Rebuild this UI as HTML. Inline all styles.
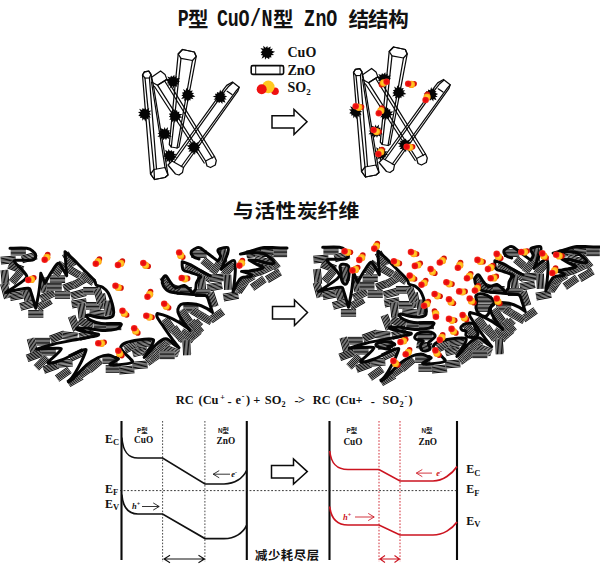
<!DOCTYPE html>
<html lang="zh"><head><meta charset="utf-8"><title>P型 CuO/N型 ZnO 结结构</title>
<style>html,body{margin:0;padding:0;background:#fff}svg{display:block}.t{font-family:"Liberation Sans","Noto Sans CJK SC",sans-serif;font-weight:bold;fill:#111}.m{font-family:"Liberation Mono",monospace;font-weight:bold;fill:#111}.s{font-family:"Liberation Serif","Noto Serif CJK SC",serif;font-weight:bold;fill:#111}.i{font-family:"Liberation Serif",serif;font-style:italic;font-weight:bold}.c{font-family:"Liberation Sans","Noto Sans CJK SC",sans-serif;fill:#222}</style></head><body>
<svg width="600" height="572" viewBox="0 0 600 572">
<rect width="600" height="572" fill="#fff"/>
<defs>
<g id="b"><rect x="-7.60" y="-4.00" width="15.20" height="8.00" fill="#ffffff"/><line x1="-7.60" y1="-3.33" x2="7.60" y2="-3.33" stroke="#0c0c0c" stroke-width="0.98"/><line x1="-7.60" y1="-2.00" x2="7.60" y2="-2.00" stroke="#0c0c0c" stroke-width="0.98"/><line x1="-7.60" y1="-0.67" x2="7.60" y2="-0.67" stroke="#0c0c0c" stroke-width="0.98"/><line x1="-7.60" y1="0.67" x2="7.60" y2="0.67" stroke="#0c0c0c" stroke-width="0.98"/><line x1="-7.60" y1="2.00" x2="7.60" y2="2.00" stroke="#0c0c0c" stroke-width="0.98"/><line x1="-7.60" y1="3.33" x2="7.60" y2="3.33" stroke="#0c0c0c" stroke-width="0.98"/></g>
<polygon id="cu" points="7.1,-0.3 4.5,1.0 5.5,3.0 3.8,2.9 4.0,5.3 1.3,4.4 0.5,7.0 -0.6,4.4 -2.9,7.1 -2.7,3.9 -4.8,4.1 -4.2,2.0 -6.0,1.7 -4.6,-0.3 -7.4,-2.1 -4.2,-2.4 -5.7,-4.9 -2.8,-3.9 -1.9,-6.1 -0.8,-4.4 1.3,-6.8 1.7,-4.2 3.9,-5.6 3.4,-3.2 6.9,-3.5 4.7,-1.0" fill="#050505"/>
<radialGradient id="yg"><stop offset="0" stop-color="#ffd83a"/><stop offset="0.6" stop-color="#ffc21e"/><stop offset="1" stop-color="#ff9a10"/></radialGradient>
<radialGradient id="rg"><stop offset="0" stop-color="#e00808"/><stop offset="0.7" stop-color="#f01212"/><stop offset="1" stop-color="#f43a2a"/></radialGradient>
</defs>
<text class="m" font-size="23.5" y="26.0" x="235.1" text-anchor="middle" transform="scale(0.780 1.000)">P</text>
<text class="t" font-size="20.5" y="26.9" x="198.2" text-anchor="middle">型</text>
<text class="m" font-size="23.5" y="26.0" x="285.1 299.1 312.9 327.6 342.3" text-anchor="middle" transform="scale(0.780 1.000)">CuO/N</text>
<text class="t" font-size="20.5" y="26.9" x="283.3" text-anchor="middle">型</text>
<text class="m" font-size="23.5" y="26.0" x="396.8 411.4 425.3" text-anchor="middle" transform="scale(0.780 1.000)">ZnO</text>
<text class="t" font-size="20.5" y="26.9" x="358.8 378.3 398.5" text-anchor="middle">结结构</text>
<text class="t" font-size="20.8" y="236.5" x="243.3 264.9 286.0 307.3 328.0 348.9" text-anchor="middle" transform="scale(1.000 0.920)">与活性炭纤维</text>
<text class="s" font-size="12.4" y="404.3" x="175.8">RC</text>
<text class="s" font-size="12.4" y="404.3" x="198.5">(Cu</text>
<text class="s" font-size="8" y="400.0" x="220.2">+</text>
<text class="s" font-size="12.4" y="405.8" x="227.4">-</text>
<text class="s" font-size="12.4" y="404.3" x="235.4">e</text>
<text class="s" font-size="8" y="399.3" x="241.8">-</text>
<text class="s" font-size="12.4" y="404.3" x="246.0">)</text>
<text class="s" font-size="12.4" y="404.3" x="253.2">+</text>
<text class="s" font-size="12.4" y="404.3" x="264.8">SO</text>
<text class="s" font-size="8.2" y="407.3" x="281.6">2</text>
<text class="s" font-size="12.4" y="404.8" x="294.4">-</text>
<text class="s" font-size="12.4" y="404.3" x="297.9">&gt;</text>
<text class="s" font-size="12.4" y="404.3" x="312.8">RC</text>
<text class="s" font-size="12.4" y="404.3" x="335.6">(Cu+</text>
<text class="s" font-size="12.4" y="405.8" x="370.8">-</text>
<text class="s" font-size="12.4" y="404.3" x="382.6">SO</text>
<text class="s" font-size="8.2" y="407.3" x="399.4">2</text>
<text class="s" font-size="8" y="399.3" x="404.6">-</text>
<text class="s" font-size="12.4" y="404.3" x="408.4">)</text>
<g transform="translate(0.0 0.0)" fill="none" stroke="#0a0a0a" stroke-width="1.25" stroke-linejoin="round" stroke-linecap="round">
<polygon points="172.0,161.0 223.8,89.2 226.7,85.4 232.5,82.0 239.2,87.3 237.8,91.2 183.5,167.5 182.5,172.5 179.0,175.0 175.5,174.0 168.0,165.0"/>
<polyline points="174.5,161.5 224.8,91.2 228.2,86.8 232.5,83.0" fill="none"/>
<polyline points="181.3,166.5 236.3,90.7 239.2,87.3" fill="none"/>
<polyline points="232.0,94.5 227.2,91.3" fill="none"/>
<polyline points="172.0,161.0 183.5,167.5" fill="none"/>
<polygon points="157.5,85.2 166.9,79.4 214.5,156.5 216.3,160.5 215.3,165.0 210.5,167.5 207.0,166.0 205.6,161.0"/>
<polyline points="165.0,81.5 212.3,158.0" fill="none"/>
<polyline points="154.5,86.5 204.2,163.0" fill="none"/>
<polyline points="205.6,161.0 214.5,156.5" fill="none"/>
<polygon points="178.2,54.0 169.3,144.5 171.3,147.0 177.0,148.0 179.0,147.0 196.2,56.5 194.3,52.0 182.5,49.5"/>
<polygon points="182.5,49.5 194.3,52.0 196.2,56.5 192.5,60.5 181.0,58.3 178.2,54.0"/>
<polyline points="181.0,58.3 171.3,147.0" fill="none"/>
<polyline points="192.5,60.5 177.0,148.0" fill="none"/>
<polygon points="142.5,75.0 150.5,174.0 154.5,179.5 165.0,177.5 168.0,175.0 153.5,86.0 151.0,74.4 148.8,71.2 144.4,71.9"/>
<polygon points="150.5,174.0 154.5,179.5 165.0,177.5 168.0,175.0 165.0,167.5 154.0,169.5"/>
<polygon points="144.4,71.9 148.8,71.2 151.0,74.4 149.4,77.8 145.0,78.1 142.5,75.0"/>
<polyline points="145.0,78.1 154.0,169.5" fill="none"/>
<polyline points="149.4,77.8 156.5,168.8" fill="none"/>
<polyline points="151.5,82.0 165.0,167.5" fill="none"/>
<polyline points="154.0,169.5 154.5,179.5" fill="none"/>
<polygon points="151.2,77.5 160.6,71.0 165.0,74.4 166.9,79.4 157.5,85.2 152.5,82.5"/>
</g>
<use href="#cu" transform="translate(173.0 81.5) rotate(0)"/>
<use href="#cu" transform="translate(187.7 95.1) rotate(37)"/>
<use href="#cu" transform="translate(220.2 97.2) rotate(74)"/>
<use href="#cu" transform="translate(144.7 114.0) rotate(111)"/>
<use href="#cu" transform="translate(175.1 116.1) rotate(148)"/>
<use href="#cu" transform="translate(164.6 133.9) rotate(185)"/>
<use href="#cu" transform="translate(194.0 147.5) rotate(222)"/>
<use href="#cu" transform="translate(169.9 155.9) rotate(259)"/>
<g transform="translate(211.0 -2.5)" fill="none" stroke="#0a0a0a" stroke-width="1.25" stroke-linejoin="round" stroke-linecap="round">
<polygon points="172.0,161.0 223.8,89.2 226.7,85.4 232.5,82.0 239.2,87.3 237.8,91.2 183.5,167.5 182.5,172.5 179.0,175.0 175.5,174.0 168.0,165.0"/>
<polyline points="174.5,161.5 224.8,91.2 228.2,86.8 232.5,83.0" fill="none"/>
<polyline points="181.3,166.5 236.3,90.7 239.2,87.3" fill="none"/>
<polyline points="232.0,94.5 227.2,91.3" fill="none"/>
<polyline points="172.0,161.0 183.5,167.5" fill="none"/>
<polygon points="157.5,85.2 166.9,79.4 214.5,156.5 216.3,160.5 215.3,165.0 210.5,167.5 207.0,166.0 205.6,161.0"/>
<polyline points="165.0,81.5 212.3,158.0" fill="none"/>
<polyline points="154.5,86.5 204.2,163.0" fill="none"/>
<polyline points="205.6,161.0 214.5,156.5" fill="none"/>
<polygon points="178.2,54.0 169.3,144.5 171.3,147.0 177.0,148.0 179.0,147.0 196.2,56.5 194.3,52.0 182.5,49.5"/>
<polygon points="182.5,49.5 194.3,52.0 196.2,56.5 192.5,60.5 181.0,58.3 178.2,54.0"/>
<polyline points="181.0,58.3 171.3,147.0" fill="none"/>
<polyline points="192.5,60.5 177.0,148.0" fill="none"/>
<polygon points="142.5,75.0 150.5,174.0 154.5,179.5 165.0,177.5 168.0,175.0 153.5,86.0 151.0,74.4 148.8,71.2 144.4,71.9"/>
<polygon points="150.5,174.0 154.5,179.5 165.0,177.5 168.0,175.0 165.0,167.5 154.0,169.5"/>
<polygon points="144.4,71.9 148.8,71.2 151.0,74.4 149.4,77.8 145.0,78.1 142.5,75.0"/>
<polyline points="145.0,78.1 154.0,169.5" fill="none"/>
<polyline points="149.4,77.8 156.5,168.8" fill="none"/>
<polyline points="151.5,82.0 165.0,167.5" fill="none"/>
<polyline points="154.0,169.5 154.5,179.5" fill="none"/>
<polygon points="151.2,77.5 160.6,71.0 165.0,74.4 166.9,79.4 157.5,85.2 152.5,82.5"/>
</g>
<use href="#cu" transform="translate(384.0 79.0) rotate(0)"/>
<use href="#cu" transform="translate(398.7 92.6) rotate(37)"/>
<use href="#cu" transform="translate(431.2 94.7) rotate(74)"/>
<use href="#cu" transform="translate(355.7 111.5) rotate(111)"/>
<use href="#cu" transform="translate(386.1 113.6) rotate(148)"/>
<use href="#cu" transform="translate(375.6 131.4) rotate(185)"/>
<use href="#cu" transform="translate(405.0 145.0) rotate(222)"/>
<use href="#cu" transform="translate(380.9 153.4) rotate(259)"/>
<circle cx="381.5" cy="84.7" r="2.8" fill="#d41208"/><circle cx="383.5" cy="82.8" r="3.6" fill="url(#yg)"/><circle cx="386.6" cy="81.7" r="3.3" fill="url(#rg)"/>
<circle cx="414.1" cy="83.8" r="2.8" fill="#d41208"/><circle cx="411.4" cy="84.4" r="3.6" fill="url(#yg)"/><circle cx="408.2" cy="83.8" r="3.3" fill="url(#rg)"/>
<circle cx="427.3" cy="94.3" r="2.8" fill="#d41208"/><circle cx="427.1" cy="97.1" r="3.6" fill="url(#yg)"/><circle cx="425.6" cy="100.0" r="3.3" fill="url(#rg)"/>
<circle cx="361.5" cy="107.1" r="2.8" fill="#d41208"/><circle cx="358.8" cy="107.3" r="3.6" fill="url(#yg)"/><circle cx="355.7" cy="106.3" r="3.3" fill="url(#rg)"/>
<circle cx="381.8" cy="108.1" r="2.8" fill="#d41208"/><circle cx="380.9" cy="110.7" r="3.6" fill="url(#yg)"/><circle cx="378.8" cy="113.2" r="3.3" fill="url(#rg)"/>
<circle cx="379.2" cy="131.8" r="2.8" fill="#d41208"/><circle cx="376.5" cy="131.6" r="3.6" fill="url(#yg)"/><circle cx="373.6" cy="130.0" r="3.3" fill="url(#rg)"/>
<circle cx="412.6" cy="146.7" r="2.8" fill="#d41208"/><circle cx="409.9" cy="147.3" r="3.6" fill="url(#yg)"/><circle cx="406.7" cy="146.7" r="3.3" fill="url(#rg)"/>
<circle cx="382.0" cy="149.5" r="2.8" fill="#d41208"/><circle cx="380.8" cy="151.9" r="3.6" fill="url(#yg)"/><circle cx="378.4" cy="154.1" r="3.3" fill="url(#rg)"/>
<use href="#cu" transform="translate(267 52.7) rotate(20) scale(1.05)"/>
<text class="s" font-size="14" x="287.5" y="56.7">CuO</text>
<rect x="251.2" y="65.6" width="32.4" height="8.8" rx="1.6" fill="#fff" stroke="#0a0a0a" stroke-width="1.6"/>
<path d="M255.7 65.8V74.2M280 65.8V74.2" stroke="#0a0a0a" stroke-width="1" fill="none"/>
<text class="s" font-size="14" x="287.5" y="74.7">ZnO</text>
<circle cx="275" cy="91.3" r="3.8" fill="#ee1111"/><circle cx="268.3" cy="86.9" r="6.3" fill="#ffc820"/><circle cx="261.7" cy="89.3" r="5" fill="#ee1111"/>
<text class="s" font-size="14" x="287.5" y="92">SO<tspan font-size="9" dy="3">2</tspan></text>
<polygon points="272.0,115.7 294.0,115.7 294.0,109.5 307.0,121.8 294.0,134.5 294.0,128.0 272.0,128.0" fill="#fff" stroke="#0a0a0a" stroke-width="1.5" stroke-linejoin="miter"/>
<polygon points="272.5,306.5 294.5,306.5 294.5,300.0 307.5,312.5 294.5,325.5 294.5,319.0 272.5,319.0" fill="#fff" stroke="#0a0a0a" stroke-width="1.5" stroke-linejoin="miter"/>
<polygon points="271.5,465.4 293.5,465.4 293.5,459.0 307.3,471.6 293.5,484.0 293.5,478.0 271.5,478.0" fill="#fff" stroke="#0a0a0a" stroke-width="1.5" stroke-linejoin="miter"/>
<g transform="translate(0.0 0.0)">
<use href="#b" transform="translate(18.3 251.7) rotate(0)"/>
<use href="#b" transform="translate(8.3 260.0) rotate(-5)"/>
<use href="#b" transform="translate(29.2 257.5) rotate(-15)"/>
<use href="#b" transform="translate(15.8 267.5) rotate(20)"/>
<use href="#b" transform="translate(5.0 277.5) rotate(85)"/>
<use href="#b" transform="translate(16.7 276.7) rotate(-50)"/>
<use href="#b" transform="translate(5.8 290.8) rotate(75)"/>
<use href="#b" transform="translate(17.5 295.8) rotate(-10)"/>
<use href="#b" transform="translate(27.5 296.7) rotate(80)"/>
<use href="#b" transform="translate(27.5 305.0) rotate(-15)"/>
<use href="#b" transform="translate(35.8 313.9) rotate(0)"/>
<use href="#b" transform="translate(44.2 304.2) rotate(-30)"/>
<use href="#b" transform="translate(47.5 295.8) rotate(-25)"/>
<use href="#b" transform="translate(44.2 285.0) rotate(80)"/>
<use href="#b" transform="translate(57.5 279.2) rotate(0)"/>
<use href="#b" transform="translate(54.2 286.7) rotate(0)"/>
<use href="#b" transform="translate(62.5 295.0) rotate(0)"/>
<use href="#b" transform="translate(59.2 269.2) rotate(-60)"/>
<use href="#b" transform="translate(69.2 260.0) rotate(60)"/>
<use href="#b" transform="translate(73.3 271.7) rotate(30)"/>
<use href="#b" transform="translate(70.8 285.8) rotate(-20)"/>
<use href="#b" transform="translate(80.0 281.7) rotate(-30)"/>
<use href="#b" transform="translate(87.5 278.3) rotate(35)"/>
<use href="#b" transform="translate(78.3 294.2) rotate(-15)"/>
<use href="#b" transform="translate(90.8 290.8) rotate(0)"/>
<use href="#b" transform="translate(79.2 303.3) rotate(-10)"/>
<use href="#b" transform="translate(81.7 310.8) rotate(85)"/>
<use href="#b" transform="translate(93.3 305.8) rotate(0)"/>
<use href="#b" transform="translate(74.2 323.3) rotate(70)"/>
<use href="#b" transform="translate(85.8 323.3) rotate(20)"/>
<use href="#b" transform="translate(102.6 301.2) rotate(80)"/>
<use href="#b" transform="translate(108.1 308.1) rotate(85)"/>
<use href="#b" transform="translate(97.0 313.7) rotate(5)"/>
<use href="#b" transform="translate(101.2 327.0) rotate(0)"/>
<use href="#b" transform="translate(113.7 326.3) rotate(0)"/>
<use href="#b" transform="translate(99.0 296.0) rotate(75)"/>
<use href="#b" transform="translate(57.5 336.7) rotate(-20)"/>
<use href="#b" transform="translate(70.0 335.8) rotate(5)"/>
<use href="#b" transform="translate(86.7 335.0) rotate(-15)"/>
<use href="#b" transform="translate(42.5 341.7) rotate(0)"/>
<use href="#b" transform="translate(32.5 345.8) rotate(75)"/>
<use href="#b" transform="translate(48.3 351.7) rotate(0)"/>
<use href="#b" transform="translate(34.2 355.8) rotate(-20)"/>
<use href="#b" transform="translate(41.7 362.5) rotate(-45)"/>
<use href="#b" transform="translate(50.8 367.5) rotate(-20)"/>
<use href="#b" transform="translate(65.0 363.3) rotate(-5)"/>
<use href="#b" transform="translate(63.3 374.2) rotate(-35)"/>
<use href="#b" transform="translate(76.7 355.0) rotate(-25)"/>
<use href="#b" transform="translate(75.0 380.0) rotate(-30)"/>
<use href="#b" transform="translate(85.0 371.7) rotate(-35)"/>
<use href="#b" transform="translate(95.0 365.0) rotate(-40)"/>
<use href="#b" transform="translate(110.0 360.0) rotate(0)"/>
<use href="#b" transform="translate(113.3 369.0) rotate(0)"/>
<use href="#b" transform="translate(126.7 370.0) rotate(-5)"/>
<use href="#b" transform="translate(140.0 365.0) rotate(-5)"/>
<use href="#b" transform="translate(131.7 346.7) rotate(-25)"/>
<use href="#b" transform="translate(143.3 343.3) rotate(-5)"/>
<use href="#b" transform="translate(140.0 351.7) rotate(-15)"/>
<use href="#b" transform="translate(153.3 358.3) rotate(-35)"/>
<use href="#b" transform="translate(160.0 348.3) rotate(-45)"/>
<use href="#b" transform="translate(169.2 353.3) rotate(0)"/>
<use href="#b" transform="translate(170.0 326.7) rotate(45)"/>
<use href="#b" transform="translate(178.3 335.0) rotate(45)"/>
<use href="#b" transform="translate(186.7 346.7) rotate(85)"/>
<use href="#b" transform="translate(193.3 335.8) rotate(-40)"/>
<use href="#b" transform="translate(195.0 326.7) rotate(-45)"/>
<use href="#b" transform="translate(186.7 322.5) rotate(40)"/>
<use href="#b" transform="translate(162.5 346.7) rotate(-40)"/>
<use href="#b" transform="translate(155.0 355.0) rotate(-50)"/>
<use href="#b" transform="translate(171.7 350.8) rotate(20)"/>
<use href="#b" transform="translate(199.0 254.1) rotate(0)"/>
<use href="#b" transform="translate(208.7 264.9) rotate(40)"/>
<use href="#b" transform="translate(191.9 269.3) rotate(25)"/>
<use href="#b" transform="translate(204.9 275.8) rotate(30)"/>
<use href="#b" transform="translate(222.8 255.2) rotate(85)"/>
<use href="#b" transform="translate(216.8 267.1) rotate(-55)"/>
<use href="#b" transform="translate(228.8 269.3) rotate(-50)"/>
<use href="#b" transform="translate(216.8 277.9) rotate(-5)"/>
<use href="#b" transform="translate(214.7 286.6) rotate(-10)"/>
<use href="#b" transform="translate(227.7 282.3) rotate(88)"/>
<use href="#b" transform="translate(201.7 283.3) rotate(85)"/>
<use href="#b" transform="translate(202.8 293.1) rotate(0)"/>
<use href="#b" transform="translate(240.7 285.5) rotate(-55)"/>
<use href="#b" transform="translate(230.9 296.3) rotate(-10)"/>
<use href="#b" transform="translate(212.5 299.5) rotate(72)"/>
<use href="#b" transform="translate(184.3 290.9) rotate(0)"/>
<use href="#b" transform="translate(166.7 283.3) rotate(60)"/>
<use href="#b" transform="translate(173.0 288.0) rotate(20)"/>
<use href="#b" transform="translate(216.7 315.8) rotate(-35)"/>
<use href="#b" transform="translate(190.9 308.7) rotate(0)"/>
<use href="#b" transform="translate(198.5 314.1) rotate(30)"/>
<use href="#b" transform="translate(185.5 316.3) rotate(55)"/>
<use href="#b" transform="translate(196.3 327.1) rotate(50)"/>
<use href="#b" transform="translate(187.7 335.8) rotate(35)"/>
<use href="#b" transform="translate(169.3 324.9) rotate(55)"/>
<use href="#b" transform="translate(177.9 333.6) rotate(55)"/>
<use href="#b" transform="translate(186.6 347.7) rotate(88)"/>
<use href="#b" transform="translate(161.7 347.7) rotate(-50)"/>
<use href="#b" transform="translate(171.4 350.9) rotate(20)"/>
<use href="#b" transform="translate(149.8 352.0) rotate(-50)"/>
<use href="#b" transform="translate(167.1 355.3) rotate(0)"/>
<use href="#b" transform="translate(144.3 343.3) rotate(-10)"/>
<use href="#b" transform="translate(205.0 318.0) rotate(30)"/>
<use href="#b" transform="translate(279.5 253.3) rotate(0)"/>
<use href="#b" transform="translate(266.0 253.0) rotate(-3)"/>
<use href="#b" transform="translate(254.0 253.5) rotate(-8)"/>
<use href="#b" transform="translate(272.9 262.8) rotate(50)"/>
<use href="#b" transform="translate(273.5 275.8) rotate(-30)"/>
<use href="#b" transform="translate(258.3 283.3) rotate(-35)"/>
<use href="#b" transform="translate(265.3 269.3) rotate(-25)"/>
<use href="#b" transform="translate(242.6 285.5) rotate(-55)"/>
<use href="#b" transform="translate(256.7 272.5) rotate(-20)"/>
<use href="#b" transform="translate(247.0 279.5) rotate(-30)"/>
<use href="#b" transform="translate(262.0 261.0) rotate(15)"/>
<path d="M10.0 248.3C12.8 248.3 22.8 247.7 26.7 248.3C30.6 248.9 31.8 250.4 33.3 251.7C34.8 252.9 35.9 254.4 35.8 255.8C35.7 257.2 35.7 259.2 32.5 260.0C29.3 260.8 19.6 259.9 16.7 260.3C13.8 260.7 13.6 260.3 15.0 262.5C16.4 264.7 23.3 270.5 25.0 273.3C26.7 276.1 28.2 276.0 25.0 279.2C21.8 282.4 5.8 292.5 5.8 292.5C5.8 292.5 12.9 290.7 16.7 290.0C20.4 289.3 25.9 288.0 28.3 288.3C30.7 288.6 29.6 288.4 30.8 291.7C32.0 295.0 35.8 308.3 35.8 308.3C35.8 308.3 38.4 295.8 39.2 290.0C40.0 284.2 40.8 273.3 40.8 273.3C40.8 273.3 45.0 283.3 45.0 283.3C45.0 283.3 49.5 275.0 51.7 271.7C53.9 268.4 56.4 263.6 58.3 263.3C60.2 263.0 61.9 267.9 63.3 270.0C64.7 272.1 66.7 275.8 66.7 275.8C66.7 275.8 66.1 267.3 65.8 263.3C65.5 259.3 65.0 251.7 65.0 251.7C65.0 251.7 70.2 256.3 73.2 259.2C76.2 262.1 79.5 265.5 83.0 269.0C86.5 272.5 92.0 277.5 94.2 280.2C96.4 282.9 94.9 283.9 96.3 285.1C97.7 286.3 100.6 285.9 102.6 287.2C104.6 288.5 106.5 290.0 108.1 292.8C109.7 295.6 111.4 300.8 112.3 304.0C113.2 307.2 113.7 310.2 113.7 312.3C113.7 314.4 113.5 315.6 112.3 316.5C111.1 317.4 109.2 317.8 106.7 317.9C104.2 318.0 100.0 317.7 97.0 317.2C94.0 316.7 90.3 315.2 88.6 315.1C86.8 315.0 86.0 315.6 86.5 316.5C87.0 317.4 89.0 319.5 91.4 320.7C93.9 321.9 96.6 323.0 101.2 323.5C105.8 324.0 116.0 323.1 119.3 323.5C122.5 323.9 121.2 324.7 120.7 325.6C120.2 326.5 119.3 328.3 116.5 329.1C113.7 329.9 109.0 330.6 104.0 330.5C99.0 330.4 91.1 328.7 86.7 328.3C82.3 327.9 77.5 328.0 77.5 328.0C77.5 328.0 74.8 329.0 78.3 330.0C81.8 331.0 98.3 334.2 98.3 334.2C98.3 334.2 100.0 335.0 96.7 335.8C93.4 336.6 85.5 337.8 78.3 339.2C71.1 340.6 60.2 342.5 53.3 344.2C46.4 345.9 36.7 349.2 36.7 349.2C36.7 349.2 54.4 348.0 58.3 348.3C62.2 348.6 61.7 348.6 60.0 350.8C58.3 353.0 48.3 361.7 48.3 361.7C48.3 361.7 47.0 363.6 49.2 363.3C51.4 363.0 56.0 362.2 61.7 360.0C67.4 357.8 79.4 351.1 83.3 350.0C87.2 348.9 86.4 349.4 85.0 353.3C83.6 357.2 77.8 368.6 75.0 373.3C72.2 378.0 68.3 381.7 68.3 381.7C68.3 381.7 68.6 382.8 71.7 380.0C74.8 377.2 82.3 368.8 86.7 365.0C91.1 361.2 94.7 359.2 98.3 357.5C101.9 355.8 105.5 355.0 108.3 355.0C111.1 355.0 113.3 356.8 115.0 357.5C116.7 358.2 119.1 358.1 118.3 359.2C117.5 360.3 110.3 363.2 110.0 364.2C109.7 365.2 113.1 365.3 116.7 365.0C120.3 364.7 129.5 363.6 131.7 362.5C133.9 361.4 131.4 360.1 130.0 358.3C128.6 356.5 124.8 353.6 123.3 351.7C121.8 349.8 120.2 348.2 120.8 346.7C121.4 345.2 123.8 343.6 126.7 342.5C129.6 341.4 134.1 340.6 138.3 340.0C142.5 339.4 149.2 338.9 151.7 339.2C154.2 339.5 153.6 340.2 153.3 341.7C153.0 343.2 151.5 345.7 150.0 348.3C148.5 350.9 144.2 357.5 144.2 357.5C144.2 357.5 146.5 355.3 148.3 353.3C150.1 351.3 153.0 347.7 155.2 345.5C157.4 343.3 159.7 341.2 161.7 340.1C163.7 339.0 165.3 338.5 167.1 339.0C168.9 339.5 170.5 341.9 172.5 343.3C174.5 344.8 179.0 347.7 179.0 347.7C179.0 347.7 173.9 341.3 171.4 337.9C168.9 334.5 166.2 330.5 163.8 327.1C161.5 323.7 158.4 319.6 157.3 317.3C156.2 315.0 157.3 313.5 157.3 313.5C157.3 313.5 163.7 314.9 167.1 316.3C170.5 317.7 174.5 319.7 177.9 321.7C181.3 323.7 185.7 326.8 187.7 328.2C189.7 329.6 189.8 330.3 189.8 330.3" fill="none" stroke="#050505" stroke-width="3.0" stroke-linecap="round" stroke-linejoin="round"/>
<path d="M287.0 248.1C285.2 248.1 279.8 247.9 276.0 247.8C272.2 247.7 268.3 247.1 264.3 247.6C260.3 248.1 256.0 249.5 252.0 250.6C248.0 251.7 240.4 254.1 240.4 254.1C240.4 254.1 248.5 252.6 252.3 252.5C256.1 252.4 260.1 252.5 263.2 253.5C266.3 254.5 269.0 256.8 270.8 258.4C272.6 260.0 274.6 262.5 274.0 263.3C273.4 264.1 270.2 263.8 267.5 263.3C264.8 262.9 260.9 261.2 257.8 260.6C254.7 260.1 249.1 260.0 249.1 260.0C249.1 260.0 254.3 263.2 256.7 264.4C259.1 265.6 262.8 266.3 263.2 267.1C263.6 267.9 261.2 268.7 258.8 269.3C256.4 269.9 252.0 270.5 249.1 270.9C246.2 271.2 241.5 271.4 241.5 271.4C241.5 271.4 250.0 273.8 251.3 274.7C252.6 275.6 250.7 276.3 249.1 276.8C247.5 277.3 243.5 276.8 241.5 277.9C239.5 279.0 238.6 280.9 237.2 283.3C235.8 285.7 233.1 292.0 233.1 292.0C233.1 292.0 233.8 286.9 234.2 283.3C234.6 279.7 235.3 274.1 235.3 270.3C235.3 266.5 235.5 261.7 234.2 260.6C232.9 259.5 229.9 262.4 227.7 263.8C225.5 265.2 221.2 269.3 221.2 269.3C221.2 269.3 223.3 264.4 224.4 261.7C225.5 259.0 227.1 255.3 227.7 253.0C228.2 250.7 229.0 248.3 227.7 247.6C226.4 246.9 221.7 248.2 220.1 248.7C218.5 249.2 217.8 249.5 217.9 250.8C218.0 252.1 220.6 254.6 220.6 256.3C220.6 258.0 217.9 261.1 217.9 261.1C217.9 261.1 215.4 259.2 213.6 257.9C211.8 256.5 209.3 254.6 207.1 253.0C204.9 251.4 202.2 249.0 200.6 248.1C199.0 247.2 198.8 247.1 197.3 247.6C195.9 248.1 192.9 249.7 191.9 250.8C190.9 251.9 191.0 253.0 191.4 254.1C191.8 255.2 192.8 256.5 194.1 257.3C195.4 258.1 198.2 258.7 199.0 259.0" fill="none" stroke="#050505" stroke-width="3.0" stroke-linecap="round" stroke-linejoin="round"/>
<path d="M210.3 275.8C208.9 275.1 204.9 273.2 201.7 271.4C198.4 269.6 194.1 266.5 190.8 264.9C187.6 263.3 182.2 261.7 182.2 261.7C182.2 261.7 181.9 268.0 183.3 269.8C184.7 271.6 187.9 271.4 190.8 272.5C193.7 273.6 199.3 275.2 200.6 276.3C201.9 277.4 199.1 277.8 198.4 279.0C197.7 280.2 196.8 281.7 196.3 283.3C195.9 284.9 196.2 287.2 195.7 288.8C195.1 290.4 193.0 293.1 193.0 293.1C193.0 293.1 191.2 291.1 189.8 289.8C188.4 288.5 185.9 286.0 184.3 285.5C182.7 285.0 181.6 286.3 180.0 286.6C178.4 286.9 176.7 288.3 175.0 287.5C173.3 286.7 171.5 283.6 170.0 281.7C168.5 279.8 167.1 276.2 165.8 275.8C164.6 275.4 162.9 277.5 162.5 279.2C162.1 280.9 162.1 283.7 163.3 285.8C164.6 287.9 165.6 290.3 170.0 291.7C174.4 293.1 185.0 293.6 190.0 294.2C195.0 294.8 197.2 294.7 200.0 295.0C202.8 295.3 205.0 294.9 206.5 296.0C208.0 297.1 208.0 298.9 209.0 301.7C210.0 304.4 212.5 312.5 212.5 312.5C212.5 312.5 209.4 309.7 206.7 308.3C204.0 306.9 200.2 305.1 196.3 304.3C192.4 303.6 186.2 303.4 183.3 303.8C180.4 304.2 179.9 305.1 179.0 306.5C178.1 307.9 177.3 309.5 177.9 311.9C178.5 314.2 180.3 317.5 182.3 320.6C184.3 323.7 189.8 330.3 189.8 330.3" fill="none" stroke="#050505" stroke-width="3.0" stroke-linecap="round" stroke-linejoin="round"/>
</g>
<circle cx="99.4" cy="259.0" r="2.8" fill="#d41208"/><circle cx="98.2" cy="261.5" r="3.6" fill="url(#yg)"/><circle cx="95.8" cy="263.7" r="3.3" fill="url(#rg)"/>
<circle cx="122.4" cy="261.1" r="2.8" fill="#d41208"/><circle cx="120.8" cy="263.3" r="3.6" fill="url(#yg)"/><circle cx="118.0" cy="265.0" r="3.3" fill="url(#rg)"/>
<circle cx="148.2" cy="266.3" r="2.8" fill="#d41208"/><circle cx="145.6" cy="265.3" r="3.6" fill="url(#yg)"/><circle cx="143.3" cy="263.0" r="3.3" fill="url(#rg)"/>
<circle cx="182.8" cy="257.1" r="2.8" fill="#d41208"/><circle cx="180.7" cy="255.4" r="3.6" fill="url(#yg)"/><circle cx="179.2" cy="252.5" r="3.3" fill="url(#rg)"/>
<circle cx="121.0" cy="287.9" r="2.8" fill="#d41208"/><circle cx="118.3" cy="287.5" r="3.6" fill="url(#yg)"/><circle cx="115.5" cy="285.8" r="3.3" fill="url(#rg)"/>
<circle cx="150.5" cy="291.6" r="2.8" fill="#d41208"/><circle cx="149.7" cy="294.3" r="3.6" fill="url(#yg)"/><circle cx="147.5" cy="296.7" r="3.3" fill="url(#rg)"/>
<circle cx="168.6" cy="307.7" r="2.8" fill="#d41208"/><circle cx="166.2" cy="306.3" r="3.6" fill="url(#yg)"/><circle cx="164.2" cy="303.7" r="3.3" fill="url(#rg)"/>
<circle cx="126.6" cy="315.0" r="2.8" fill="#d41208"/><circle cx="124.3" cy="313.5" r="3.6" fill="url(#yg)"/><circle cx="122.5" cy="310.8" r="3.3" fill="url(#rg)"/>
<circle cx="152.0" cy="317.2" r="2.8" fill="#d41208"/><circle cx="149.3" cy="317.1" r="3.6" fill="url(#yg)"/><circle cx="146.3" cy="315.8" r="3.3" fill="url(#rg)"/>
<circle cx="137.8" cy="332.9" r="2.8" fill="#d41208"/><circle cx="135.7" cy="331.2" r="3.6" fill="url(#yg)"/><circle cx="134.2" cy="328.3" r="3.3" fill="url(#rg)"/>
<circle cx="187.6" cy="278.4" r="2.8" fill="#d41208"/><circle cx="184.9" cy="278.8" r="3.6" fill="url(#yg)"/><circle cx="181.7" cy="278.0" r="3.3" fill="url(#rg)"/>
<circle cx="242.4" cy="260.5" r="2.8" fill="#d41208"/><circle cx="241.6" cy="263.2" r="3.6" fill="url(#yg)"/><circle cx="239.4" cy="265.6" r="3.3" fill="url(#rg)"/>
<circle cx="47.7" cy="254.6" r="2.8" fill="#d41208"/><circle cx="46.9" cy="257.3" r="3.6" fill="url(#yg)"/><circle cx="44.7" cy="259.7" r="3.3" fill="url(#rg)"/>
<circle cx="33.8" cy="277.8" r="2.8" fill="#d41208"/><circle cx="31.5" cy="279.4" r="3.6" fill="url(#yg)"/><circle cx="28.3" cy="280.0" r="3.3" fill="url(#rg)"/>
<circle cx="104.1" cy="342.2" r="2.8" fill="#d41208"/><circle cx="101.6" cy="343.3" r="3.6" fill="url(#yg)"/><circle cx="98.3" cy="343.3" r="3.3" fill="url(#rg)"/>
<circle cx="121.8" cy="355.6" r="2.8" fill="#d41208"/><circle cx="119.7" cy="353.7" r="3.6" fill="url(#yg)"/><circle cx="118.3" cy="350.8" r="3.3" fill="url(#rg)"/>
<g transform="translate(312.7 -1.0)">
<use href="#b" transform="translate(18.3 251.7) rotate(0)"/>
<use href="#b" transform="translate(8.3 260.0) rotate(-5)"/>
<use href="#b" transform="translate(29.2 257.5) rotate(-15)"/>
<use href="#b" transform="translate(15.8 267.5) rotate(20)"/>
<use href="#b" transform="translate(5.0 277.5) rotate(85)"/>
<use href="#b" transform="translate(16.7 276.7) rotate(-50)"/>
<use href="#b" transform="translate(5.8 290.8) rotate(75)"/>
<use href="#b" transform="translate(17.5 295.8) rotate(-10)"/>
<use href="#b" transform="translate(27.5 296.7) rotate(80)"/>
<use href="#b" transform="translate(27.5 305.0) rotate(-15)"/>
<use href="#b" transform="translate(35.8 313.9) rotate(0)"/>
<use href="#b" transform="translate(44.2 304.2) rotate(-30)"/>
<use href="#b" transform="translate(47.5 295.8) rotate(-25)"/>
<use href="#b" transform="translate(44.2 285.0) rotate(80)"/>
<use href="#b" transform="translate(57.5 279.2) rotate(0)"/>
<use href="#b" transform="translate(54.2 286.7) rotate(0)"/>
<use href="#b" transform="translate(62.5 295.0) rotate(0)"/>
<use href="#b" transform="translate(59.2 269.2) rotate(-60)"/>
<use href="#b" transform="translate(69.2 260.0) rotate(60)"/>
<use href="#b" transform="translate(73.3 271.7) rotate(30)"/>
<use href="#b" transform="translate(70.8 285.8) rotate(-20)"/>
<use href="#b" transform="translate(80.0 281.7) rotate(-30)"/>
<use href="#b" transform="translate(87.5 278.3) rotate(35)"/>
<use href="#b" transform="translate(78.3 294.2) rotate(-15)"/>
<use href="#b" transform="translate(90.8 290.8) rotate(0)"/>
<use href="#b" transform="translate(79.2 303.3) rotate(-10)"/>
<use href="#b" transform="translate(81.7 310.8) rotate(85)"/>
<use href="#b" transform="translate(93.3 305.8) rotate(0)"/>
<use href="#b" transform="translate(74.2 323.3) rotate(70)"/>
<use href="#b" transform="translate(85.8 323.3) rotate(20)"/>
<use href="#b" transform="translate(102.6 301.2) rotate(80)"/>
<use href="#b" transform="translate(108.1 308.1) rotate(85)"/>
<use href="#b" transform="translate(97.0 313.7) rotate(5)"/>
<use href="#b" transform="translate(101.2 327.0) rotate(0)"/>
<use href="#b" transform="translate(113.7 326.3) rotate(0)"/>
<use href="#b" transform="translate(99.0 296.0) rotate(75)"/>
<use href="#b" transform="translate(57.5 336.7) rotate(-20)"/>
<use href="#b" transform="translate(70.0 335.8) rotate(5)"/>
<use href="#b" transform="translate(86.7 335.0) rotate(-15)"/>
<use href="#b" transform="translate(42.5 341.7) rotate(0)"/>
<use href="#b" transform="translate(32.5 345.8) rotate(75)"/>
<use href="#b" transform="translate(48.3 351.7) rotate(0)"/>
<use href="#b" transform="translate(34.2 355.8) rotate(-20)"/>
<use href="#b" transform="translate(41.7 362.5) rotate(-45)"/>
<use href="#b" transform="translate(50.8 367.5) rotate(-20)"/>
<use href="#b" transform="translate(65.0 363.3) rotate(-5)"/>
<use href="#b" transform="translate(63.3 374.2) rotate(-35)"/>
<use href="#b" transform="translate(76.7 355.0) rotate(-25)"/>
<use href="#b" transform="translate(75.0 380.0) rotate(-30)"/>
<use href="#b" transform="translate(85.0 371.7) rotate(-35)"/>
<use href="#b" transform="translate(95.0 365.0) rotate(-40)"/>
<use href="#b" transform="translate(110.0 360.0) rotate(0)"/>
<use href="#b" transform="translate(113.3 369.0) rotate(0)"/>
<use href="#b" transform="translate(126.7 370.0) rotate(-5)"/>
<use href="#b" transform="translate(140.0 365.0) rotate(-5)"/>
<use href="#b" transform="translate(131.7 346.7) rotate(-25)"/>
<use href="#b" transform="translate(143.3 343.3) rotate(-5)"/>
<use href="#b" transform="translate(140.0 351.7) rotate(-15)"/>
<use href="#b" transform="translate(153.3 358.3) rotate(-35)"/>
<use href="#b" transform="translate(160.0 348.3) rotate(-45)"/>
<use href="#b" transform="translate(169.2 353.3) rotate(0)"/>
<use href="#b" transform="translate(170.0 326.7) rotate(45)"/>
<use href="#b" transform="translate(178.3 335.0) rotate(45)"/>
<use href="#b" transform="translate(186.7 346.7) rotate(85)"/>
<use href="#b" transform="translate(193.3 335.8) rotate(-40)"/>
<use href="#b" transform="translate(195.0 326.7) rotate(-45)"/>
<use href="#b" transform="translate(186.7 322.5) rotate(40)"/>
<use href="#b" transform="translate(162.5 346.7) rotate(-40)"/>
<use href="#b" transform="translate(155.0 355.0) rotate(-50)"/>
<use href="#b" transform="translate(171.7 350.8) rotate(20)"/>
<use href="#b" transform="translate(199.0 254.1) rotate(0)"/>
<use href="#b" transform="translate(208.7 264.9) rotate(40)"/>
<use href="#b" transform="translate(191.9 269.3) rotate(25)"/>
<use href="#b" transform="translate(204.9 275.8) rotate(30)"/>
<use href="#b" transform="translate(222.8 255.2) rotate(85)"/>
<use href="#b" transform="translate(216.8 267.1) rotate(-55)"/>
<use href="#b" transform="translate(228.8 269.3) rotate(-50)"/>
<use href="#b" transform="translate(216.8 277.9) rotate(-5)"/>
<use href="#b" transform="translate(214.7 286.6) rotate(-10)"/>
<use href="#b" transform="translate(227.7 282.3) rotate(88)"/>
<use href="#b" transform="translate(201.7 283.3) rotate(85)"/>
<use href="#b" transform="translate(202.8 293.1) rotate(0)"/>
<use href="#b" transform="translate(240.7 285.5) rotate(-55)"/>
<use href="#b" transform="translate(230.9 296.3) rotate(-10)"/>
<use href="#b" transform="translate(212.5 299.5) rotate(72)"/>
<use href="#b" transform="translate(184.3 290.9) rotate(0)"/>
<use href="#b" transform="translate(166.7 283.3) rotate(60)"/>
<use href="#b" transform="translate(173.0 288.0) rotate(20)"/>
<use href="#b" transform="translate(216.7 315.8) rotate(-35)"/>
<use href="#b" transform="translate(190.9 308.7) rotate(0)"/>
<use href="#b" transform="translate(198.5 314.1) rotate(30)"/>
<use href="#b" transform="translate(185.5 316.3) rotate(55)"/>
<use href="#b" transform="translate(196.3 327.1) rotate(50)"/>
<use href="#b" transform="translate(187.7 335.8) rotate(35)"/>
<use href="#b" transform="translate(169.3 324.9) rotate(55)"/>
<use href="#b" transform="translate(177.9 333.6) rotate(55)"/>
<use href="#b" transform="translate(186.6 347.7) rotate(88)"/>
<use href="#b" transform="translate(161.7 347.7) rotate(-50)"/>
<use href="#b" transform="translate(171.4 350.9) rotate(20)"/>
<use href="#b" transform="translate(149.8 352.0) rotate(-50)"/>
<use href="#b" transform="translate(167.1 355.3) rotate(0)"/>
<use href="#b" transform="translate(144.3 343.3) rotate(-10)"/>
<use href="#b" transform="translate(205.0 318.0) rotate(30)"/>
<use href="#b" transform="translate(279.5 253.3) rotate(0)"/>
<use href="#b" transform="translate(266.0 253.0) rotate(-3)"/>
<use href="#b" transform="translate(254.0 253.5) rotate(-8)"/>
<use href="#b" transform="translate(272.9 262.8) rotate(50)"/>
<use href="#b" transform="translate(273.5 275.8) rotate(-30)"/>
<use href="#b" transform="translate(258.3 283.3) rotate(-35)"/>
<use href="#b" transform="translate(265.3 269.3) rotate(-25)"/>
<use href="#b" transform="translate(242.6 285.5) rotate(-55)"/>
<use href="#b" transform="translate(256.7 272.5) rotate(-20)"/>
<use href="#b" transform="translate(247.0 279.5) rotate(-30)"/>
<use href="#b" transform="translate(262.0 261.0) rotate(15)"/>
<use href="#b" transform="translate(112.3 337.5) rotate(0)"/>
<use href="#b" transform="translate(111.5 346.5) rotate(10)"/>
<use href="#b" transform="translate(157.5 331.5) rotate(55)"/>
<use href="#b" transform="translate(32.0 275.0) rotate(80)"/>
<use href="#b" transform="translate(171.7 300.6) rotate(0)"/>
<use href="#b" transform="translate(170.8 309.0) rotate(0)"/>
<use href="#b" transform="translate(72.5 346.0) rotate(-8)"/>
<path d="M10.0 248.3C12.8 248.3 22.8 247.7 26.7 248.3C30.6 248.9 31.8 250.4 33.3 251.7C34.8 252.9 35.9 254.4 35.8 255.8C35.7 257.2 35.7 259.2 32.5 260.0C29.3 260.8 19.6 259.9 16.7 260.3C13.8 260.7 13.6 260.3 15.0 262.5C16.4 264.7 23.3 270.5 25.0 273.3C26.7 276.1 28.2 276.0 25.0 279.2C21.8 282.4 5.8 292.5 5.8 292.5C5.8 292.5 12.9 290.7 16.7 290.0C20.4 289.3 25.9 288.0 28.3 288.3C30.7 288.6 29.6 288.4 30.8 291.7C32.0 295.0 35.8 308.3 35.8 308.3C35.8 308.3 38.4 295.8 39.2 290.0C40.0 284.2 40.8 273.3 40.8 273.3C40.8 273.3 45.0 283.3 45.0 283.3C45.0 283.3 49.5 275.0 51.7 271.7C53.9 268.4 56.4 263.6 58.3 263.3C60.2 263.0 61.9 267.9 63.3 270.0C64.7 272.1 66.7 275.8 66.7 275.8C66.7 275.8 66.1 267.3 65.8 263.3C65.5 259.3 65.0 251.7 65.0 251.7C65.0 251.7 70.2 256.3 73.2 259.2C76.2 262.1 79.5 265.5 83.0 269.0C86.5 272.5 92.0 277.5 94.2 280.2C96.4 282.9 94.9 283.9 96.3 285.1C97.7 286.3 100.6 285.9 102.6 287.2C104.6 288.5 106.5 290.0 108.1 292.8C109.7 295.6 111.4 300.8 112.3 304.0C113.2 307.2 113.7 310.2 113.7 312.3C113.7 314.4 113.5 315.6 112.3 316.5C111.1 317.4 109.2 317.8 106.7 317.9C104.2 318.0 100.0 317.7 97.0 317.2C94.0 316.7 90.3 315.2 88.6 315.1C86.8 315.0 86.0 315.6 86.5 316.5C87.0 317.4 89.0 319.5 91.4 320.7C93.9 321.9 96.6 323.0 101.2 323.5C105.8 324.0 116.0 323.1 119.3 323.5C122.5 323.9 121.2 324.7 120.7 325.6C120.2 326.5 119.3 328.3 116.5 329.1C113.7 329.9 109.0 330.6 104.0 330.5C99.0 330.4 91.1 328.7 86.7 328.3C82.3 327.9 77.5 328.0 77.5 328.0C77.5 328.0 74.8 329.0 78.3 330.0C81.8 331.0 98.3 334.2 98.3 334.2C98.3 334.2 100.0 335.0 96.7 335.8C93.4 336.6 85.5 337.8 78.3 339.2C71.1 340.6 60.2 342.5 53.3 344.2C46.4 345.9 36.7 349.2 36.7 349.2C36.7 349.2 54.4 348.0 58.3 348.3C62.2 348.6 61.7 348.6 60.0 350.8C58.3 353.0 48.3 361.7 48.3 361.7C48.3 361.7 47.0 363.6 49.2 363.3C51.4 363.0 56.0 362.2 61.7 360.0C67.4 357.8 79.4 351.1 83.3 350.0C87.2 348.9 86.4 349.4 85.0 353.3C83.6 357.2 77.8 368.6 75.0 373.3C72.2 378.0 68.3 381.7 68.3 381.7C68.3 381.7 68.6 382.8 71.7 380.0C74.8 377.2 82.3 368.8 86.7 365.0C91.1 361.2 94.7 359.2 98.3 357.5C101.9 355.8 105.5 355.0 108.3 355.0C111.1 355.0 113.3 356.8 115.0 357.5C116.7 358.2 119.1 358.1 118.3 359.2C117.5 360.3 110.3 363.2 110.0 364.2C109.7 365.2 113.1 365.3 116.7 365.0C120.3 364.7 129.5 363.6 131.7 362.5C133.9 361.4 131.4 360.1 130.0 358.3C128.6 356.5 124.8 353.6 123.3 351.7C121.8 349.8 120.2 348.2 120.8 346.7C121.4 345.2 123.8 343.6 126.7 342.5C129.6 341.4 134.1 340.6 138.3 340.0C142.5 339.4 149.2 338.9 151.7 339.2C154.2 339.5 153.6 340.2 153.3 341.7C153.0 343.2 151.5 345.7 150.0 348.3C148.5 350.9 144.2 357.5 144.2 357.5C144.2 357.5 146.5 355.3 148.3 353.3C150.1 351.3 153.0 347.7 155.2 345.5C157.4 343.3 159.7 341.2 161.7 340.1C163.7 339.0 165.3 338.5 167.1 339.0C168.9 339.5 170.5 341.9 172.5 343.3C174.5 344.8 179.0 347.7 179.0 347.7C179.0 347.7 173.9 341.3 171.4 337.9C168.9 334.5 166.2 330.5 163.8 327.1C161.5 323.7 158.4 319.6 157.3 317.3C156.2 315.0 157.3 313.5 157.3 313.5C157.3 313.5 163.7 314.9 167.1 316.3C170.5 317.7 174.5 319.7 177.9 321.7C181.3 323.7 185.7 326.8 187.7 328.2C189.7 329.6 189.8 330.3 189.8 330.3" fill="none" stroke="#050505" stroke-width="3.0" stroke-linecap="round" stroke-linejoin="round"/>
<path d="M287.0 248.1C285.2 248.1 279.8 247.9 276.0 247.8C272.2 247.7 268.3 247.1 264.3 247.6C260.3 248.1 256.0 249.5 252.0 250.6C248.0 251.7 240.4 254.1 240.4 254.1C240.4 254.1 248.5 252.6 252.3 252.5C256.1 252.4 260.1 252.5 263.2 253.5C266.3 254.5 269.0 256.8 270.8 258.4C272.6 260.0 274.6 262.5 274.0 263.3C273.4 264.1 270.2 263.8 267.5 263.3C264.8 262.9 260.9 261.2 257.8 260.6C254.7 260.1 249.1 260.0 249.1 260.0C249.1 260.0 254.3 263.2 256.7 264.4C259.1 265.6 262.8 266.3 263.2 267.1C263.6 267.9 261.2 268.7 258.8 269.3C256.4 269.9 252.0 270.5 249.1 270.9C246.2 271.2 241.5 271.4 241.5 271.4C241.5 271.4 250.0 273.8 251.3 274.7C252.6 275.6 250.7 276.3 249.1 276.8C247.5 277.3 243.5 276.8 241.5 277.9C239.5 279.0 238.6 280.9 237.2 283.3C235.8 285.7 233.1 292.0 233.1 292.0C233.1 292.0 233.8 286.9 234.2 283.3C234.6 279.7 235.3 274.1 235.3 270.3C235.3 266.5 235.5 261.7 234.2 260.6C232.9 259.5 229.9 262.4 227.7 263.8C225.5 265.2 221.2 269.3 221.2 269.3C221.2 269.3 223.3 264.4 224.4 261.7C225.5 259.0 227.1 255.3 227.7 253.0C228.2 250.7 229.0 248.3 227.7 247.6C226.4 246.9 221.7 248.2 220.1 248.7C218.5 249.2 217.8 249.5 217.9 250.8C218.0 252.1 220.6 254.6 220.6 256.3C220.6 258.0 217.9 261.1 217.9 261.1C217.9 261.1 215.4 259.2 213.6 257.9C211.8 256.5 209.3 254.6 207.1 253.0C204.9 251.4 202.2 249.0 200.6 248.1C199.0 247.2 198.8 247.1 197.3 247.6C195.9 248.1 192.9 249.7 191.9 250.8C190.9 251.9 191.0 253.0 191.4 254.1C191.8 255.2 192.8 256.5 194.1 257.3C195.4 258.1 198.2 258.7 199.0 259.0" fill="none" stroke="#050505" stroke-width="3.0" stroke-linecap="round" stroke-linejoin="round"/>
<path d="M210.3 275.8C208.9 275.1 204.9 273.2 201.7 271.4C198.4 269.6 194.1 266.5 190.8 264.9C187.6 263.3 182.2 261.7 182.2 261.7C182.2 261.7 181.9 268.0 183.3 269.8C184.7 271.6 187.9 271.4 190.8 272.5C193.7 273.6 199.3 275.2 200.6 276.3C201.9 277.4 199.1 277.8 198.4 279.0C197.7 280.2 196.8 281.7 196.3 283.3C195.9 284.9 196.2 287.2 195.7 288.8C195.1 290.4 193.0 293.1 193.0 293.1C193.0 293.1 191.2 291.1 189.8 289.8C188.4 288.5 185.9 286.0 184.3 285.5C182.7 285.0 181.6 286.3 180.0 286.6C178.4 286.9 176.7 288.3 175.0 287.5C173.3 286.7 171.5 283.6 170.0 281.7C168.5 279.8 167.1 276.2 165.8 275.8C164.6 275.4 162.9 277.5 162.5 279.2C162.1 280.9 162.1 283.7 163.3 285.8C164.6 287.9 165.6 290.3 170.0 291.7C174.4 293.1 185.0 293.6 190.0 294.2C195.0 294.8 197.2 294.7 200.0 295.0C202.8 295.3 205.0 294.9 206.5 296.0C208.0 297.1 208.0 298.9 209.0 301.7C210.0 304.4 212.5 312.5 212.5 312.5C212.5 312.5 209.4 309.7 206.7 308.3C204.0 306.9 200.2 305.1 196.3 304.3C192.4 303.6 186.2 303.4 183.3 303.8C180.4 304.2 179.9 305.1 179.0 306.5C178.1 307.9 177.3 309.5 177.9 311.9C178.5 314.2 180.3 317.5 182.3 320.6C184.3 323.7 189.8 330.3 189.8 330.3" fill="none" stroke="#050505" stroke-width="3.0" stroke-linecap="round" stroke-linejoin="round"/>
<path d="M63.6 345.0C64.6 344.2 67.8 342.8 70.3 342.5C72.8 342.2 76.6 342.8 78.6 343.3C80.5 343.9 82.5 345.1 82.0 345.8C81.5 346.5 76.1 346.8 75.3 347.5C74.5 348.2 77.8 349.7 77.0 350.0C76.2 350.3 72.4 349.6 70.3 349.2C68.2 348.8 65.6 348.2 64.5 347.5C63.4 346.8 62.6 345.8 63.6 345.0Z" fill="none" stroke="#050505" stroke-width="3.0" stroke-linecap="round" stroke-linejoin="round"/>
<path d="M163.3 296.4C164.4 295.2 167.7 294.5 170.3 295.0C172.9 295.5 176.8 297.6 178.7 299.2C180.6 300.8 181.7 303.2 181.5 304.8C181.3 306.4 178.2 307.4 177.3 309.0C176.4 310.6 176.7 313.2 175.9 314.6C175.1 316.0 173.9 317.4 172.3 317.4C170.7 317.4 167.6 316.0 166.1 314.6C164.6 313.2 163.7 311.1 163.3 309.0C163.0 306.9 164.0 304.1 164.0 302.0C164.0 299.9 162.2 297.6 163.3 296.4Z" fill="none" stroke="#050505" stroke-width="3.0" stroke-linecap="round" stroke-linejoin="round"/>
<path d="M29.8 265.2C31.2 265.1 34.5 265.3 35.6 266.8C36.7 268.3 36.6 271.7 36.5 274.3C36.4 276.9 35.5 280.9 34.8 282.7C34.1 284.5 33.3 285.5 32.3 285.2C31.3 284.9 29.7 283.1 29.0 281.0C28.3 278.9 28.4 274.9 28.1 272.7C27.8 270.5 27.0 268.9 27.3 267.7C27.6 266.4 28.4 265.3 29.8 265.2Z" fill="none" stroke="#050505" stroke-width="3.0" stroke-linecap="round" stroke-linejoin="round"/>
<path d="M103.1 336.0C103.9 335.0 105.2 334.1 107.3 333.5C109.4 332.9 113.4 332.6 115.6 332.7C117.8 332.8 119.5 333.5 120.6 334.3C121.7 335.1 122.6 336.6 122.3 337.7C122.0 338.8 120.1 339.9 119.0 341.0C117.9 342.1 115.9 342.9 115.6 344.3C115.3 345.7 117.6 348.1 117.3 349.3C117.0 350.6 115.4 351.5 114.0 351.8C112.6 352.1 110.0 352.0 109.0 351.0C108.0 350.0 107.8 347.5 108.1 346.0C108.4 344.5 111.0 342.6 110.6 341.8C110.2 341.0 107.0 341.4 105.6 341.0C104.2 340.6 102.7 340.1 102.3 339.3C101.9 338.5 102.3 337.0 103.1 336.0Z" fill="none" stroke="#050505" stroke-width="3.0" stroke-linecap="round" stroke-linejoin="round"/>
<path d="M148.6 327.7C149.4 326.6 152.0 324.8 154.0 324.3C156.0 323.9 159.2 324.1 160.6 325.0C162.0 325.9 161.8 328.1 162.6 329.7C163.4 331.2 165.2 333.0 165.3 334.3C165.4 335.6 164.6 337.0 163.3 337.7C162.0 338.4 159.0 338.5 157.3 338.3C155.6 338.1 154.0 337.3 153.3 336.3C152.6 335.3 154.0 333.2 153.3 332.3C152.6 331.4 150.1 331.8 149.3 331.0C148.5 330.2 147.8 328.8 148.6 327.7Z" fill="none" stroke="#050505" stroke-width="3.0" stroke-linecap="round" stroke-linejoin="round"/>
</g>
<circle cx="350.4" cy="252.2" r="2.8" fill="#d41208"/><circle cx="347.7" cy="252.4" r="3.6" fill="url(#yg)"/><circle cx="344.6" cy="251.3" r="3.3" fill="url(#rg)"/>
<circle cx="377.3" cy="243.5" r="2.8" fill="#d41208"/><circle cx="376.4" cy="246.2" r="3.6" fill="url(#yg)"/><circle cx="374.3" cy="248.6" r="3.3" fill="url(#rg)"/>
<circle cx="362.8" cy="255.1" r="2.8" fill="#d41208"/><circle cx="361.7" cy="257.7" r="3.6" fill="url(#yg)"/><circle cx="359.3" cy="259.9" r="3.3" fill="url(#rg)"/>
<circle cx="357.7" cy="267.5" r="2.8" fill="#d41208"/><circle cx="355.6" cy="269.4" r="3.6" fill="url(#yg)"/><circle cx="352.5" cy="270.4" r="3.3" fill="url(#rg)"/>
<circle cx="399.4" cy="263.4" r="2.8" fill="#d41208"/><circle cx="396.7" cy="262.9" r="3.6" fill="url(#yg)"/><circle cx="393.9" cy="261.2" r="3.3" fill="url(#rg)"/>
<circle cx="416.6" cy="254.0" r="2.8" fill="#d41208"/><circle cx="413.8" cy="253.6" r="3.6" fill="url(#yg)"/><circle cx="411.0" cy="252.0" r="3.3" fill="url(#rg)"/>
<circle cx="420.2" cy="263.3" r="2.8" fill="#d41208"/><circle cx="418.0" cy="265.0" r="3.6" fill="url(#yg)"/><circle cx="414.9" cy="265.9" r="3.3" fill="url(#rg)"/>
<circle cx="444.0" cy="258.3" r="2.8" fill="#d41208"/><circle cx="442.5" cy="260.7" r="3.6" fill="url(#yg)"/><circle cx="439.8" cy="262.5" r="3.3" fill="url(#rg)"/>
<circle cx="434.8" cy="273.2" r="2.8" fill="#d41208"/><circle cx="432.5" cy="271.8" r="3.6" fill="url(#yg)"/><circle cx="430.6" cy="269.1" r="3.3" fill="url(#rg)"/>
<circle cx="460.5" cy="262.5" r="2.8" fill="#d41208"/><circle cx="459.8" cy="265.2" r="3.6" fill="url(#yg)"/><circle cx="457.9" cy="267.8" r="3.3" fill="url(#rg)"/>
<circle cx="414.6" cy="279.0" r="2.8" fill="#d41208"/><circle cx="412.0" cy="277.9" r="3.6" fill="url(#yg)"/><circle cx="409.7" cy="275.6" r="3.3" fill="url(#rg)"/>
<circle cx="425.7" cy="280.6" r="2.8" fill="#d41208"/><circle cx="424.2" cy="283.0" r="3.6" fill="url(#yg)"/><circle cx="421.5" cy="284.8" r="3.3" fill="url(#rg)"/>
<circle cx="452.0" cy="284.1" r="2.8" fill="#d41208"/><circle cx="449.2" cy="283.8" r="3.6" fill="url(#yg)"/><circle cx="446.4" cy="282.2" r="3.3" fill="url(#rg)"/>
<circle cx="440.1" cy="296.2" r="2.8" fill="#d41208"/><circle cx="437.3" cy="295.8" r="3.6" fill="url(#yg)"/><circle cx="434.6" cy="294.0" r="3.3" fill="url(#rg)"/>
<circle cx="465.1" cy="291.4" r="2.8" fill="#d41208"/><circle cx="462.4" cy="292.0" r="3.6" fill="url(#yg)"/><circle cx="459.2" cy="291.4" r="3.3" fill="url(#rg)"/>
<circle cx="428.3" cy="301.6" r="2.8" fill="#d41208"/><circle cx="426.8" cy="304.0" r="3.6" fill="url(#yg)"/><circle cx="424.1" cy="305.8" r="3.3" fill="url(#rg)"/>
<circle cx="453.4" cy="303.2" r="2.8" fill="#d41208"/><circle cx="451.0" cy="301.9" r="3.6" fill="url(#yg)"/><circle cx="449.0" cy="299.3" r="3.3" fill="url(#rg)"/>
<circle cx="434.5" cy="311.1" r="2.8" fill="#d41208"/><circle cx="435.7" cy="313.6" r="3.6" fill="url(#yg)"/><circle cx="435.9" cy="316.8" r="3.3" fill="url(#rg)"/>
<circle cx="454.7" cy="320.3" r="2.8" fill="#d41208"/><circle cx="452.0" cy="320.3" r="3.6" fill="url(#yg)"/><circle cx="449.0" cy="318.9" r="3.3" fill="url(#rg)"/>
<circle cx="455.9" cy="332.9" r="2.8" fill="#d41208"/><circle cx="453.5" cy="331.5" r="3.6" fill="url(#yg)"/><circle cx="451.6" cy="328.9" r="3.3" fill="url(#rg)"/>
<circle cx="442.7" cy="334.7" r="2.8" fill="#d41208"/><circle cx="441.9" cy="337.4" r="3.6" fill="url(#yg)"/><circle cx="439.8" cy="339.9" r="3.3" fill="url(#rg)"/>
<circle cx="405.7" cy="339.2" r="2.8" fill="#d41208"/><circle cx="403.6" cy="341.0" r="3.6" fill="url(#yg)"/><circle cx="400.5" cy="342.0" r="3.3" fill="url(#rg)"/>
<circle cx="409.6" cy="349.9" r="2.8" fill="#d41208"/><circle cx="408.3" cy="352.3" r="3.6" fill="url(#yg)"/><circle cx="405.7" cy="354.3" r="3.3" fill="url(#rg)"/>
<circle cx="439.0" cy="355.1" r="2.8" fill="#d41208"/><circle cx="436.9" cy="353.3" r="3.6" fill="url(#yg)"/><circle cx="435.4" cy="350.4" r="3.3" fill="url(#rg)"/>
<circle cx="397.9" cy="364.7" r="2.8" fill="#d41208"/><circle cx="395.5" cy="363.4" r="3.6" fill="url(#yg)"/><circle cx="393.4" cy="360.9" r="3.3" fill="url(#rg)"/>
<circle cx="483.1" cy="261.7" r="2.8" fill="#d41208"/><circle cx="480.4" cy="261.5" r="3.6" fill="url(#yg)"/><circle cx="477.5" cy="259.9" r="3.3" fill="url(#rg)"/>
<circle cx="500.7" cy="258.3" r="2.8" fill="#d41208"/><circle cx="498.4" cy="256.7" r="3.6" fill="url(#yg)"/><circle cx="496.7" cy="253.9" r="3.3" fill="url(#rg)"/>
<circle cx="492.7" cy="265.5" r="2.8" fill="#d41208"/><circle cx="490.9" cy="267.6" r="3.6" fill="url(#yg)"/><circle cx="488.0" cy="269.1" r="3.3" fill="url(#rg)"/>
<circle cx="470.7" cy="273.7" r="2.8" fill="#d41208"/><circle cx="469.5" cy="276.2" r="3.6" fill="url(#yg)"/><circle cx="467.0" cy="278.3" r="3.3" fill="url(#rg)"/>
<circle cx="496.3" cy="276.4" r="2.8" fill="#d41208"/><circle cx="493.9" cy="277.9" r="3.6" fill="url(#yg)"/><circle cx="490.7" cy="278.3" r="3.3" fill="url(#rg)"/>
<circle cx="478.3" cy="285.8" r="2.8" fill="#d41208"/><circle cx="477.2" cy="288.3" r="3.6" fill="url(#yg)"/><circle cx="474.9" cy="290.6" r="3.3" fill="url(#rg)"/>
<circle cx="473.9" cy="302.7" r="2.8" fill="#d41208"/><circle cx="471.5" cy="301.2" r="3.6" fill="url(#yg)"/><circle cx="469.7" cy="298.5" r="3.3" fill="url(#rg)"/>
<circle cx="499.8" cy="303.5" r="2.8" fill="#d41208"/><circle cx="497.9" cy="301.5" r="3.6" fill="url(#yg)"/><circle cx="496.7" cy="298.5" r="3.3" fill="url(#rg)"/>
<circle cx="466.6" cy="319.4" r="2.8" fill="#d41208"/><circle cx="464.3" cy="317.8" r="3.6" fill="url(#yg)"/><circle cx="462.6" cy="315.0" r="3.3" fill="url(#rg)"/>
<circle cx="527.1" cy="251.0" r="2.8" fill="#d41208"/><circle cx="524.6" cy="252.1" r="3.6" fill="url(#yg)"/><circle cx="521.3" cy="252.0" r="3.3" fill="url(#rg)"/>
<circle cx="546.2" cy="257.8" r="2.8" fill="#d41208"/><circle cx="544.0" cy="256.2" r="3.6" fill="url(#yg)"/><circle cx="542.3" cy="253.4" r="3.3" fill="url(#rg)"/>
<circle cx="562.0" cy="255.9" r="2.8" fill="#d41208"/><circle cx="559.2" cy="255.9" r="3.6" fill="url(#yg)"/><circle cx="556.2" cy="254.7" r="3.3" fill="url(#rg)"/>
<circle cx="555.6" cy="268.1" r="2.8" fill="#d41208"/><circle cx="554.6" cy="270.7" r="3.6" fill="url(#yg)"/><circle cx="552.3" cy="273.0" r="3.3" fill="url(#rg)"/>
<path d="M121.5 421V560M246.8 421V560" stroke="#0a0a0a" stroke-width="2.1" fill="none"/><path d="M162.6 421V562M204.9 421V562" stroke="#333" stroke-width="0.9" stroke-dasharray="1.6 1.6" fill="none"/><path d="M121.8 437.5C123 452 128 458 138 458H162.6L205 484H224C235 484 243 478 246.6 470.5" stroke="#111" stroke-width="1.7" fill="none"/><path d="M121.8 494.5C123 508 128 514 138 514H162.6L205 538.6H224C235 538.6 243 533 246.6 525.4" stroke="#111" stroke-width="1.7" fill="none"/>
<path d="M329.5 421V560M457.0 421V560" stroke="#0a0a0a" stroke-width="2.1" fill="none"/><path d="M379.0 421V562M400.0 421V562" stroke="#cc1420" stroke-width="0.9" stroke-dasharray="1.6 1.6" fill="none"/><path d="M329.7 451C331 463 336 469.5 348 469.5H379L400 481H433C443 481 452 474 457 466.5" stroke="#cc1420" stroke-width="1.7" fill="none"/><path d="M329.7 506.5C331 518 336 525 348 525H379L400 535H433C443 535 452 529 457 522" stroke="#cc1420" stroke-width="1.7" fill="none"/>
<path d="M120 490.6H458" stroke="#222" stroke-width="0.9" stroke-dasharray="1.8 1.8" fill="none"/>
<path d="M164 559H204.5M170 555.2L164 559L170 562.8M198.5 555.2L204.5 559L198.5 562.8" stroke="#111" stroke-width="1.1" fill="none"/>
<path d="M380 559H399.5M385 555.5L380 559L385 562.5M394.5 555.5L399.5 559L394.5 562.5" stroke="#cc1420" stroke-width="1.1" fill="none"/>
<path d="M230.0 474.2H213.2M219.2 470.6L213.2 474.2L219.2 477.8" stroke="#111" stroke-width="0.85" fill="none"/>
<path d="M142.0 506.5H159.2M153.2 502.9L159.2 506.5L153.2 510.1" stroke="#111" stroke-width="0.85" fill="none"/>
<path d="M432.0 473.1H416.3M422.3 469.5L416.3 473.1L422.3 476.7" stroke="#cc1420" stroke-width="0.85" fill="none"/>
<path d="M355.0 517.0H374.2M368.2 513.4L374.2 517.0L368.2 520.6" stroke="#cc1420" stroke-width="0.85" fill="none"/>
<text class="s" font-size="12" x="105.0" y="442.6">E<tspan font-size="8.5" dy="2.3">C</tspan></text>
<text class="s" font-size="12" x="105.0" y="492.5">E<tspan font-size="8.5" dy="2.3">F</tspan></text>
<text class="s" font-size="12" x="105.0" y="507.6">E<tspan font-size="8.5" dy="2.3">V</tspan></text>
<text class="s" font-size="12" x="466.3" y="473.4">E<tspan font-size="8.5" dy="2.3">C</tspan></text>
<text class="s" font-size="12" x="466.3" y="493.2">E<tspan font-size="8.5" dy="2.3">F</tspan></text>
<text class="s" font-size="12" x="466.3" y="525.1">E<tspan font-size="8.5" dy="2.3">V</tspan></text>
<text class="c" font-size="6.4" font-weight="bold" x="137.0" y="432.8">P型</text><text class="s" font-size="9.3" x="134.0" y="443.4">CuO</text>
<text class="c" font-size="6.4" font-weight="bold" x="218.0" y="433.1">N型</text><text class="s" font-size="9.3" x="216.6" y="444.4">ZnO</text>
<text class="c" font-size="6.4" font-weight="bold" x="346.6" y="433.4">P型</text><text class="s" font-size="9.3" x="343.4" y="444.6">CuO</text>
<text class="c" font-size="6.4" font-weight="bold" x="421.4" y="433.4">N型</text><text class="s" font-size="9.3" x="418.5" y="444.6">ZnO</text>
<text class="i" font-size="8.5" x="231.3" y="476.6" fill="#111">e<tspan font-size="6" dy="-3">-</tspan></text>
<text class="i" font-size="8.5" x="132.0" y="508.8" fill="#111">h<tspan font-size="6" dy="-3">+</tspan></text>
<text class="i" font-size="8.5" x="436.2" y="476.2" fill="#cc1420">e<tspan font-size="6" dy="-3">-</tspan></text>
<text class="i" font-size="8.5" x="343.0" y="519.5" fill="#cc1420">h<tspan font-size="6" dy="-3">+</tspan></text>
<text class="t" font-size="12.4" x="254.9" y="560.2" textLength="64.3" lengthAdjust="spacing">减少耗尽层</text>
</svg></body></html>
